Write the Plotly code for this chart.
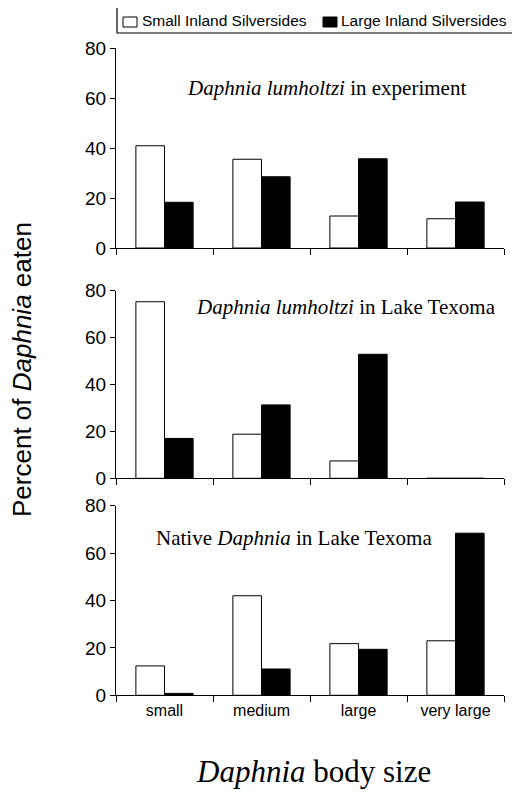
import plotly.graph_objects as go

# ---- data ----
categories = ["small", "medium", "large", "very large"]
panel_titles = [
    "<i>Daphnia lumholtzi</i> in experiment",
    "<i>Daphnia lumholtzi</i> in Lake Texoma",
    "Native <i>Daphnia</i> in Lake Texoma",
]
small_experiment = [40.9, 35.5, 12.8, 11.7]
large_experiment = [18.3, 28.5, 35.7, 18.4]
small_texoma = [75.3, 18.8, 7.4, 0]
large_texoma = [17.0, 31.3, 52.9, 0]
small_native = [12.4, 42.0, 21.8, 23.0]
large_native = [0.8, 11.1, 19.4, 68.4]
y_ticks = [0, 20, 40, 60, 80]
series_names = ["Small Inland Silversides", "Large Inland Silversides"]
series_fill = ["white", "black"]

# the page body has an 8px default margin, so the figure is sized to fill
# the rest of the 520x793 window and positions are given in window pixels
OFF = 8
W, H = 520 - OFF, 793 - OFF
SANS = "Arial, 'Liberation Sans', sans-serif"
SERIF = "'Times New Roman', 'Liberation Serif', serif"


def px(x):
    return (x - OFF) / W


def py(y):
    return 1 - (y - OFF) / H


panels = [
    (small_experiment, large_experiment),
    (small_texoma, large_texoma),
    (small_native, large_native),
]
# window-pixel extents (top, bottom) of each plotting area
pix = [(48, 248), (290.7, 478.3), (505.7, 695.3)]
title_pos = [(326, 88), (345.5, 306.7), (293.5, 538)]
x0, x1 = 116, 504

fig = go.Figure()
for i, pair in enumerate(panels):
    k = "" if i == 0 else str(i + 1)
    for j, vals in enumerate(pair):
        fig.add_trace(go.Bar(
            x=categories, y=vals, name=series_names[j],
            xaxis="x" + k, yaxis="y" + k,
            marker=dict(color=series_fill[j], line=dict(color="black", width=1)),
            showlegend=False,
        ))
    top, bot = pix[i]
    fig.layout["xaxis" + k] = dict(
        domain=[px(x0), px(x1)], anchor="y" + k, type="category",
        tickson="boundaries", range=[-0.5, 3.5], automargin=False,
        showline=True, linecolor="black", linewidth=1, ticks="outside",
        ticklen=6, tickcolor="black", showgrid=False, zeroline=False,
        showticklabels=(i == 2),
        tickfont=dict(family=SANS, size=16, color="black"), fixedrange=True,
    )
    fig.layout["yaxis" + k] = dict(
        domain=[py(bot), py(top)], anchor="x" + k, range=[0, 80],
        tickvals=y_ticks, automargin=False,
        showline=True, linecolor="black", linewidth=1, ticks="outside",
        ticklen=5, tickcolor="black", showgrid=False, zeroline=False,
        tickfont=dict(family=SANS, size=19, color="black"), fixedrange=True,
    )
    tx, ty = title_pos[i]
    fig.add_annotation(
        text=panel_titles[i], x=px(tx), y=py(ty), xref="paper", yref="paper",
        xanchor="center", yanchor="middle", showarrow=False,
        font=dict(family=SERIF, size=21, color="black"),
    )

# axis titles
fig.add_annotation(
    text="Percent of <i>Daphnia</i> eaten", x=px(22), y=py(370),
    xref="paper", yref="paper", textangle=-90, showarrow=False,
    xanchor="center", yanchor="middle",
    font=dict(family=SANS, size=26, color="black"),
)
fig.add_annotation(
    text="<i>Daphnia</i> body size", x=px(313), y=py(771),
    xref="paper", yref="paper", showarrow=False,
    xanchor="center", yanchor="middle",
    font=dict(family=SERIF, size=31, color="black"),
)

# legend (box runs off the right edge, as in the original figure)
shapes = [dict(type="rect", xref="paper", yref="paper",
               x0=px(117), x1=px(540), y0=py(33), y1=py(7.5),
               line=dict(color="black", width=1.2), fillcolor="white")]
legend_sq = [(123, 137), (323, 337)]
legend_tx = [140, 339]
for j in range(2):
    a, b = legend_sq[j]
    shapes.append(dict(type="rect", xref="paper", yref="paper",
                       x0=px(a), x1=px(b), y0=py(27), y1=py(17),
                       line=dict(color="black", width=1), fillcolor=series_fill[j]))
    fig.add_annotation(
        text=series_names[j], x=px(legend_tx[j]), y=py(21),
        xref="paper", yref="paper", showarrow=False,
        xanchor="left", yanchor="middle",
        font=dict(family=SANS, size=15.5, color="black"),
    )

fig.update_layout(
    width=W, height=H, margin=dict(l=0, r=0, t=0, b=0, pad=0, autoexpand=False),
    paper_bgcolor="white", plot_bgcolor="white",
    barmode="group", bargap=0.41, bargroupgap=0,
    showlegend=False, shapes=shapes,
)

fig.write_html("out.html")
